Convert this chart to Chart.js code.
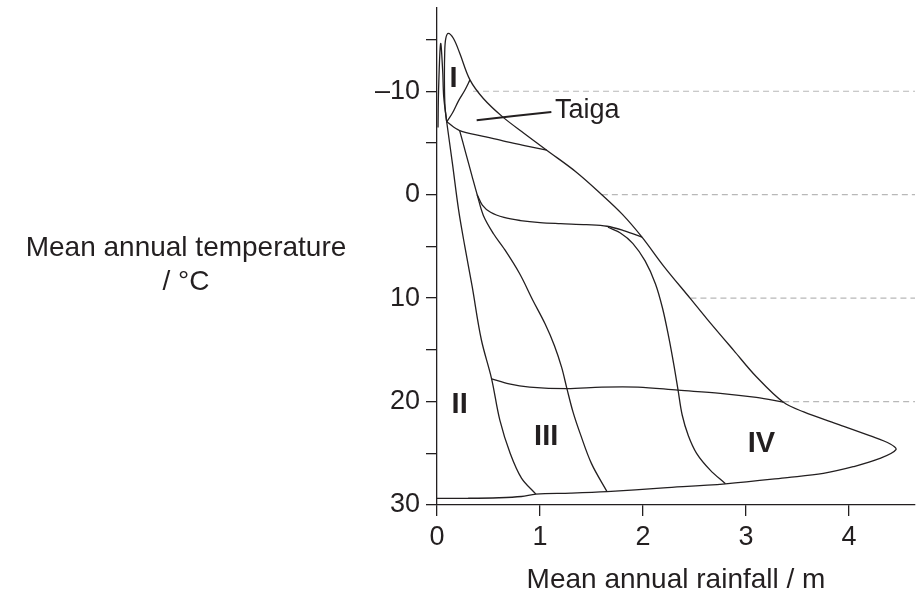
<!DOCTYPE html>
<html>
<head>
<meta charset="utf-8">
<script src="https://cdn.jsdelivr.net/npm/chart.js@4.4.1/dist/chart.umd.min.js"></script>
<style>
  html, body { margin: 0; padding: 0; background: #fff; }
  #wrap { width: 917px; height: 594px; position: relative; }
</style>
</head>
<body>
<div id="wrap"><canvas id="biome-chart"></canvas></div>
<script>
// boundaries, as [rainfall (m), temperature (°C)]
const outline = [
    [0.00, 29.35], [0.30, 29.35], [0.60, 29.3], [0.82, 29.18], [0.96, 28.95],
    [1.30, 28.85], [1.65, 28.7], [2.20, 28.35], [2.80, 27.95], [3.40, 27.35],
    [3.75, 26.95], [4.04, 26.3], [4.30, 25.5], [4.455, 24.65], [4.40, 24.1],
    [4.20, 23.3], [3.88, 22.15], [3.56, 21.0], [3.36, 20.05], [3.10, 17.6],
    [2.88, 15.05], [2.62, 12.0], [2.46, 10.05], [2.20, 6.9], [1.99, 4.1],
    [1.80, 1.9], [1.60, 0.0], [1.35, -2.2], [1.065, -4.3], [0.85, -5.9],
    [0.64, -7.5], [0.45, -9.3], [0.32, -11.1], [0.22, -13.7], [0.16, -15.1],
    [0.11, -15.6], [0.085, -15.1], [0.075, -13.8], [0.072, -11.0], [0.078, -8.5],
    [0.094, -7.05]
];
const spike = [[0.01, -6.5], [0.015, -10.0], [0.035, -14.6], [0.055, -12.0], [0.065, -9.5], [0.094, -7.05]];
const tundraEdge = [[0.094, -7.05], [0.15, -7.9], [0.21, -9.1], [0.27, -10.1], [0.32, -11.1]];
const taigaEdge = [[0.094, -7.05], [0.22, -6.2], [0.45, -5.65], [0.64, -5.2], [0.85, -4.75], [1.065, -4.3]];
const desertEdge = [
    [0.094, -7.05], [0.15, -3.0], [0.21, 1.5], [0.27, 5.0], [0.34, 8.8], [0.43, 14.0],
    [0.53, 17.8], [0.61, 21.8], [0.71, 25.0], [0.82, 27.4], [0.96, 28.95]
];
const grassEdge = [
    [0.22, -6.2], [0.28, -4.0], [0.34, -1.8], [0.39, 0.0], [0.45, 2.0], [0.55, 3.8],
    [0.65, 5.2], [0.80, 7.6], [0.93, 10.2], [1.05, 12.5], [1.14, 14.6], [1.21, 16.7],
    [1.26, 18.7], [1.32, 21.0], [1.39, 23.1], [1.50, 26.0], [1.65, 28.7]
];
const coolLine = [
    [0.39, 0.0], [0.44, 1.0], [0.52, 1.7], [0.65, 2.2], [0.81, 2.5], [1.0, 2.7],
    [1.2, 2.8], [1.45, 2.9], [1.65, 3.05], [1.82, 3.5], [1.99, 4.1]
];
const forestEdge = [
    [1.66, 3.15], [1.78, 3.7], [1.90, 4.7], [2.02, 6.4], [2.12, 8.6], [2.19, 11.0],
    [2.25, 13.8], [2.30, 16.5], [2.34, 18.9], [2.38, 21.3], [2.44, 23.3], [2.52, 25.0],
    [2.65, 26.6], [2.80, 27.95]
];
const warmLine = [
    [0.53, 17.8], [0.70, 18.3], [0.90, 18.6], [1.26, 18.75], [1.60, 18.6], [1.95, 18.6],
    [2.34, 18.9], [2.75, 19.2], [3.10, 19.6], [3.36, 20.05]
];
const taigaPointer = [[0.385, -7.2], [1.11, -8.0]];

// dashed guide lines run from the outline to the right edge
const guideTemps = [-10, 0, 10, 20];
const guideStart = [0.35, 1.60, 2.46, 3.36];
const rainMax = 4.64;

const xTicks = [0, 1, 2, 3, 4];
const yTicks = [-15, -10, -5, 0, 5, 10, 15, 20, 25, 30];

const regionNames = ['I', 'II', 'III', 'IV'];
const regionRain = [0.16, 0.22, 1.06, 3.15];
const regionTemp = [-11.2, 20.3, 23.4, 24.1];

const ink = '#231f20';
const font = '"Liberation Sans", Arial, Helvetica, sans-serif';

const toPoints = arr => arr.map(p => ({x: p[0], y: p[1]}));

function curve(arr, width) {
    return {
        data: toPoints(arr),
        showLine: true,
        borderColor: ink,
        borderWidth: width || 1.3,
        pointRadius: 0,
        tension: 0.35,
        fill: false,
        order: 0
    };
}

const datasets = [
    curve(outline), curve(spike), curve(tundraEdge), curve(taigaEdge),
    curve(desertEdge), curve(grassEdge), curve(coolLine), curve(forestEdge),
    curve(warmLine), curve(taigaPointer, 2)
];
guideTemps.forEach((t, i) => {
    datasets.push({
        data: [{x: guideStart[i], y: t}, {x: rainMax, y: t}],
        showLine: true,
        borderColor: '#b8b8b8',
        borderWidth: 1.2,
        borderDash: [6, 4],
        pointRadius: 0,
        order: 5
    });
});

// labels inside the plot and the horizontal y title
const textPlugin = {
    id: 'biomeText',
    afterDatasetsDraw(chart) {
        const ctx = chart.ctx;
        const xs = chart.scales.x, ys = chart.scales.y;
        ctx.save();
        ctx.fillStyle = ink;
        ctx.textBaseline = 'middle';
        ctx.textAlign = 'center';
        ctx.font = 'bold 29px ' + font;
        regionNames.forEach((name, i) => {
            ctx.fillText(name, xs.getPixelForValue(regionRain[i]), ys.getPixelForValue(regionTemp[i]));
        });
        ctx.font = '27px ' + font;
        ctx.textAlign = 'left';
        ctx.fillText('Taiga', xs.getPixelForValue(1.146), ys.getPixelForValue(-8.1));

        ctx.font = '28px ' + font;
        ctx.textAlign = 'center';
        ctx.fillText('Mean annual temperature', 186, 248);
        ctx.fillText('/ °C', 186, 282);
        ctx.restore();
    }
};

new Chart(document.getElementById('biome-chart'), {
    type: 'scatter',
    data: { datasets: datasets },
    options: {
        responsive: true,
        maintainAspectRatio: false,
        animation: false,
        layout: { padding: { top: 8, right: 2, bottom: 0, left: 0 } },
        plugins: { legend: { display: false }, tooltip: { enabled: false } },
        scales: {
            x: {
                type: 'linear',
                position: 'bottom',
                min: 0,
                max: rainMax,
                afterBuildTicks: s => { s.ticks = xTicks.map(v => ({value: v})); },
                afterFit: s => { s.height = 89; s.paddingLeft = 0; s.paddingRight = 0; },
                grid: { drawOnChartArea: false, drawTicks: true, tickLength: 11, color: ink, lineWidth: 1.3 },
                border: { color: ink, width: 1.3 },
                ticks: { color: ink, padding: 8, font: { family: font, size: 27, lineHeight: 1 } },
                title: {
                    display: true,
                    text: 'Mean annual rainfall / m',
                    color: ink,
                    padding: 0,
                    font: { family: font, size: 28, lineHeight: 1 }
                }
            },
            y: {
                type: 'linear',
                position: 'left',
                reverse: true,
                min: -18.05,
                max: 30,
                afterBuildTicks: s => { s.ticks = yTicks.map(v => ({value: v})); },
                afterFit: s => { s.width = 437; s.paddingTop = 0; s.paddingBottom = 0; },
                grid: { drawOnChartArea: false, drawTicks: true, tickLength: 11, color: ink, lineWidth: 1.3 },
                border: { color: ink, width: 1.3 },
                ticks: {
                    color: ink,
                    padding: 6,
                    font: { family: font, size: 27, lineHeight: 1 },
                    callback: v => v % 10 !== 0 ? '' : (v < 0 ? '\u2013' + Math.abs(v) : String(v))
                }
            }
        }
    },
    plugins: [textPlugin]
});
</script>
</body>
</html>
